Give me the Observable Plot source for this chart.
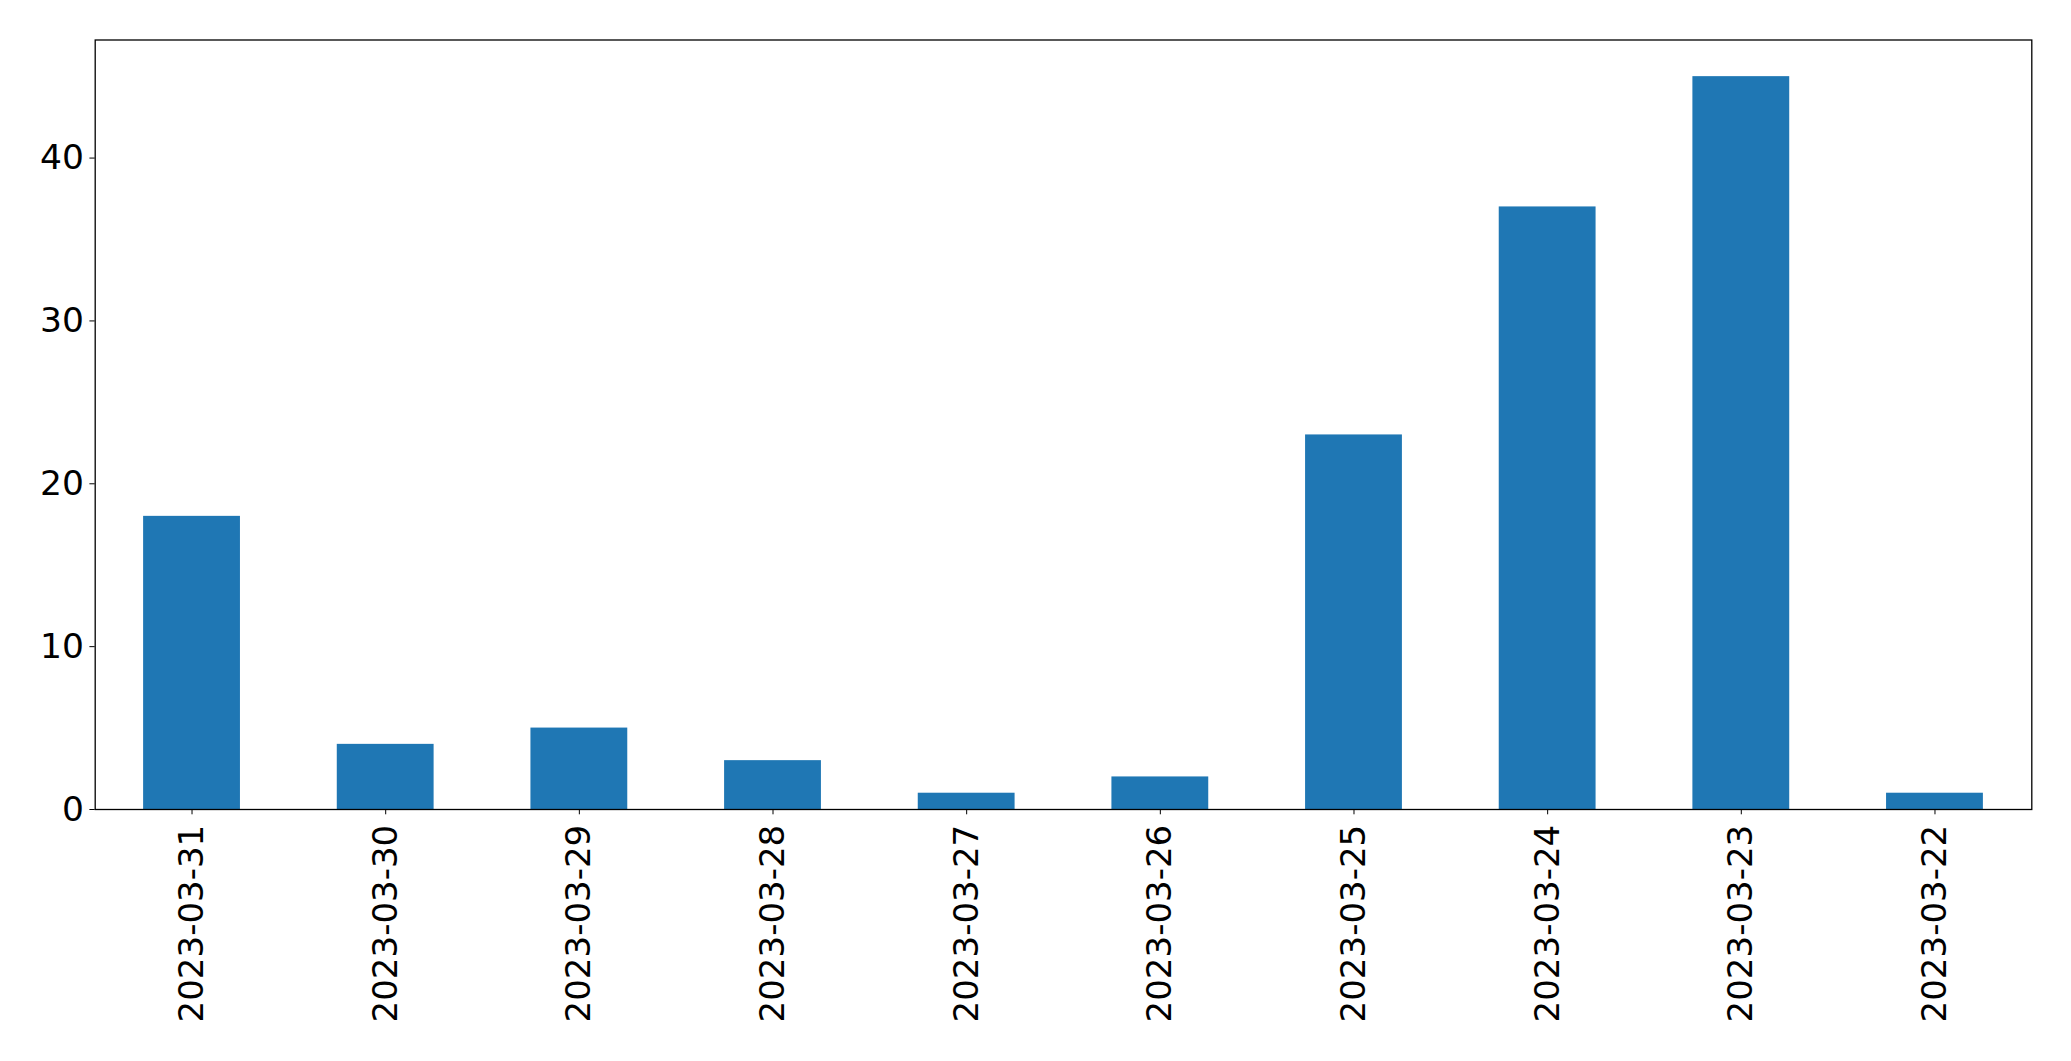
<!DOCTYPE html>
<html>
<head>
<meta charset="utf-8">
<script src="https://cdn.jsdelivr.net/npm/d3@7"></script>
<script src="https://cdn.jsdelivr.net/npm/@observablehq/plot@0.6"></script>
<style>
  html, body { margin: 0; padding: 0; background: #fff; overflow: hidden; }
  svg { display: block; }
</style>
</head>
<body>
<div id="chart"></div>
<script>
const dates = ["2023-03-31","2023-03-30","2023-03-29","2023-03-28","2023-03-27","2023-03-26","2023-03-25","2023-03-24","2023-03-23","2023-03-22"];
const counts = [18, 4, 5, 3, 1, 2, 23, 37, 45, 1];
const yTicks = [0, 10, 20, 30, 40];

const data = dates.map((d, i) => ({date: d, count: counts[i]}));

const chart = Plot.plot({
  width: 2071,
  height: 1061,
  marginLeft: 94.7,
  marginRight: 39.7,
  marginTop: 39.5,
  marginBottom: 252,
  style: {fontFamily: "DejaVu Sans", fontSize: "34px", color: "#000", background: "#fff"},
  x: {domain: dates, paddingInner: 0.5, paddingOuter: 0.25, round: false, label: null},
  y: {domain: [0, 47.25], label: null},
  marks: [
    Plot.barY(data, {x: "date", y: "count", fill: "#1f77b4"}),
    Plot.axisY({ticks: yTicks, tickSize: 5.3, tickPadding: 6, fontSize: 34.5, label: null, stroke: "#000"}),
    Plot.axisX({tickRotate: -90, tickSize: 5.3, tickPadding: 10, fontSize: 34, label: null, stroke: "#000"}),
    Plot.frame({stroke: "#000", strokeWidth: 1.3})
  ]
});
document.getElementById("chart").appendChild(chart);
</script>
</body>
</html>
